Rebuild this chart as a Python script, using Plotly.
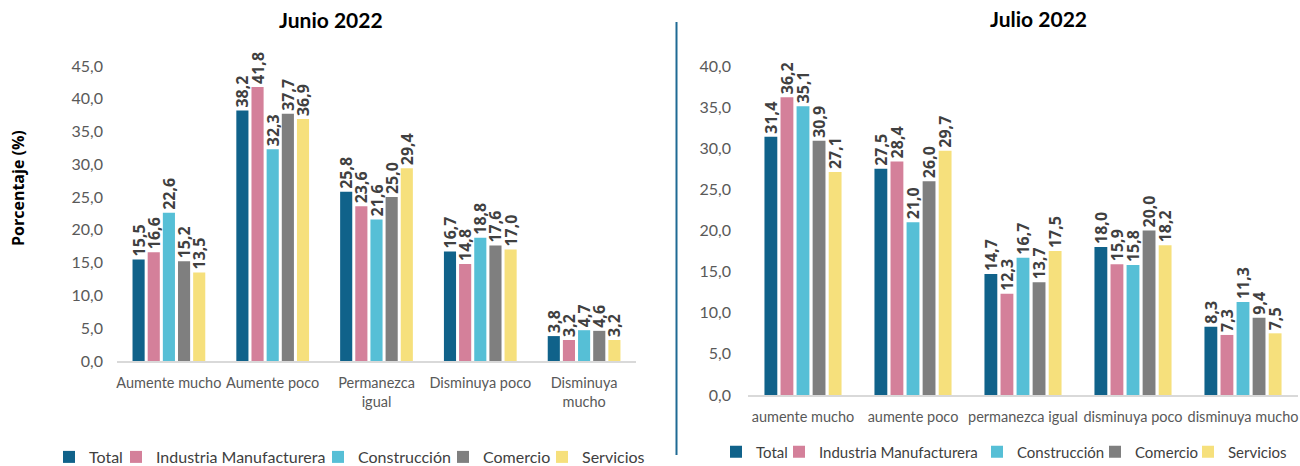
import plotly.graph_objects as go

series = ["Total", "Industria Manufacturera", "Construcción", "Comercio", "Servicios"]
colors = ["#10628a", "#d4809a", "#56bfd6", "#7f7f7f", "#f6e07c"]

cats_jun = ["Aumente mucho", "Aumente poco", "Permanezca<br>igual", "Disminuya poco", "Disminuya<br>mucho"]
cats_jul = ["aumente mucho", "aumente poco", "permanezca igual", "disminuya poco", "disminuya mucho"]

jun_total = [15.5, 38.2, 25.8, 16.7, 3.8]
jun_industria = [16.6, 41.8, 23.6, 14.8, 3.2]
jun_construccion = [22.6, 32.3, 21.6, 18.8, 4.7]
jun_comercio = [15.2, 37.7, 25.0, 17.6, 4.6]
jun_servicios = [13.5, 36.9, 29.4, 17.0, 3.2]

jul_total = [31.4, 27.5, 14.7, 18.0, 8.3]
jul_industria = [36.2, 28.4, 12.3, 15.9, 7.3]
jul_construccion = [35.1, 21.0, 16.7, 15.8, 11.3]
jul_comercio = [30.9, 26.0, 13.7, 20.0, 9.4]
jul_servicios = [27.1, 29.7, 17.5, 18.2, 7.5]

jun_vals = [jun_total, jun_industria, jun_construccion, jun_comercio, jun_servicios]
jul_vals = [jul_total, jul_industria, jul_construccion, jul_comercio, jul_servicios]

W, H = 1300, 466
def px(x):
    return x / W
def py(y):
    return 1 - y / H

# legend symbol centres in the reference (pixels)
leg_jun_sym = [76, 143, 345, 470, 569]
leg_jul_sym = [741, 804, 1002, 1120, 1213]

fig = go.Figure()

label_font = dict(family="Open Sans", size=16, color="#404040", weight="bold")

for i, (name, col, vals) in enumerate(zip(series, colors, jun_vals)):
    fig.add_trace(go.Bar(
        x=cats_jun, y=vals, name=name, marker=dict(color=col, line=dict(width=0)),
        text=[f"{v:.1f}".replace(".", ",") for v in vals],
        textposition="outside", textangle=-90, textfont=label_font,
        constraintext="none", cliponaxis=False,
        xaxis="x", yaxis="y", legend="legend" if i == 0 else f"legend{i + 1}",
        hoverinfo="skip",
    ))

for i, (name, col, vals) in enumerate(zip(series, colors, jul_vals)):
    fig.add_trace(go.Bar(
        x=cats_jul, y=vals, name=name, marker=dict(color=col, line=dict(width=0)),
        text=[f"{v:.1f}".replace(".", ",") for v in vals],
        textposition="outside", textangle=-90, textfont=label_font,
        constraintext="none", cliponaxis=False,
        xaxis="x2", yaxis="y2", legend=f"legend{i + 6}",
        hoverinfo="skip",
    ))

cat_font = dict(family="Lato", size=14.5, color="#595959")
ytick_font = dict(family="Lato", size=16, color="#595959")

layout = dict(
    width=W, height=H,
    margin=dict(l=0, r=0, t=0, b=0, autoexpand=False),
    paper_bgcolor="white", plot_bgcolor="white",
    separators=",.",
    barmode="group", bargap=0.27, bargroupgap=0.2,
    font=dict(family="Lato", color="#595959"),
    showlegend=True,
    xaxis=dict(domain=[px(117), px(636)], anchor="y", showline=True, linecolor="#d9d9d9",
               linewidth=1.5, ticks="", tickfont=cat_font, ticklabelstandoff=8, tickangle=0,
               automargin=False, showgrid=False, zeroline=False, fixedrange=True),
    yaxis=dict(domain=[py(361), py(66)], anchor="x", range=[0, 45], dtick=5,
               tickformat=".1f", showgrid=False, zeroline=False, showline=False, automargin=False,
               ticks="", tickfont=ytick_font, ticklabelstandoff=13, fixedrange=True),
    xaxis2=dict(domain=[px(748), px(1298)], anchor="y2", showline=True, linecolor="#d9d9d9",
                linewidth=1.5, ticks="", tickfont=cat_font, ticklabelstandoff=8, tickangle=0,
                automargin=False, showgrid=False, zeroline=False, fixedrange=True),
    yaxis2=dict(domain=[py(395), py(66)], anchor="x2", range=[0, 40], dtick=5,
                tickformat=".1f", showgrid=False, zeroline=False, showline=False, automargin=False,
                ticks="", tickfont=ytick_font, ticklabelstandoff=16, fixedrange=True),
)

for i, sx in enumerate(leg_jun_sym):
    key = "legend" if i == 0 else f"legend{i + 1}"
    layout[key] = dict(orientation="h", x=px(sx - 27), y=py(457), xanchor="left", yanchor="middle",
                       font=dict(family="Lato", size=16, color="#404040"), itemwidth=30,
                       bgcolor="rgba(0,0,0,0)", borderwidth=0)
for i, sx in enumerate(leg_jul_sym):
    key = f"legend{i + 6}"
    layout[key] = dict(orientation="h", x=px(sx - 25), y=py(452), xanchor="left", yanchor="middle",
                       font=dict(family="Lato", size=15, color="#404040"), itemwidth=30,
                       bgcolor="rgba(0,0,0,0)", borderwidth=0)

fig.update_layout(**layout)

fig.add_annotation(x=px(331), y=py(20), xref="paper", yref="paper", text="<b>Junio 2022</b>",
                   showarrow=False, font=dict(family="Lato", size=21, color="#000000"),
                   xanchor="center", yanchor="middle")
fig.add_annotation(x=px(1038), y=py(18), xref="paper", yref="paper", text="<b>Julio 2022</b>",
                   showarrow=False, font=dict(family="Lato", size=21, color="#000000"),
                   xanchor="center", yanchor="middle")
fig.add_annotation(x=px(18), y=py(188), xref="paper", yref="paper", text="<b>Porcentaje (%)</b>",
                   showarrow=False, textangle=-90, font=dict(family="Open Sans", size=16, color="#000000"),
                   xanchor="center", yanchor="middle")

fig.add_shape(type="line", xref="paper", yref="paper", x0=px(676.5), x1=px(676.5),
              y0=py(22), y1=py(455), line=dict(color="#1f6a94", width=2))

fig.write_html("out.html", config={"displayModeBar": False},
               post_script="document.body.style.margin='0';document.body.style.overflow='hidden';")
